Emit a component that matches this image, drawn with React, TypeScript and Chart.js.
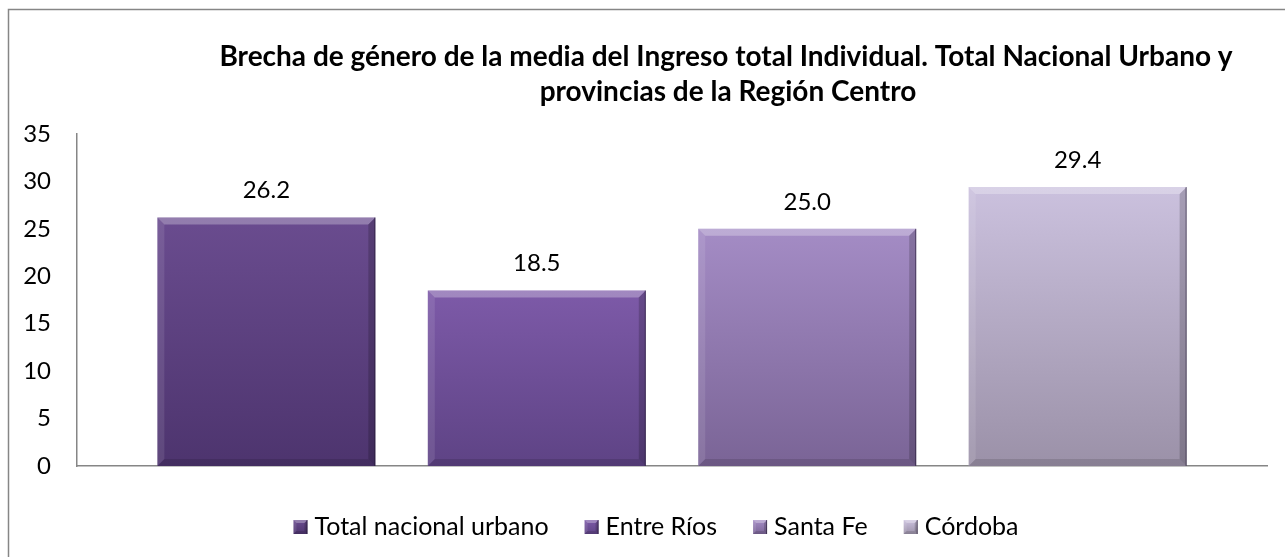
import React, { useEffect, useRef } from "react";
import { Chart, registerables } from "chart.js";

Chart.register(...registerables);

const categories = ["Total nacional urbano", "Entre Ríos", "Santa Fe", "Córdoba"];
const values = [26.2, 18.5, 25.0, 29.4];
const yMin = 0;
const yMax = 35;
const yStep = 5;
const titleLines = [
  "Brecha de género de la media del Ingreso total Individual. Total Nacional Urbano y",
  "provincias de la Región Centro",
];
const topColors = ["#6a4c8f", "#7d5aa8", "#a48cc5", "#cbc1de"];
const bottomColors = ["#4d346e", "#5e4385", "#7a6496", "#9b91a8"];

const FONT = "Lato, 'Open Sans', sans-serif";

const framePlugin = {
  id: "frame",
  beforeDraw(chart: any) {
    const c = chart.ctx;
    c.save();
    c.fillStyle = "#ffffff";
    c.fillRect(0, 0, chart.width, chart.height);
    c.strokeStyle = "#868686";
    c.lineWidth = 1.5;
    c.beginPath();
    c.moveTo(8.5, chart.height);
    c.lineTo(8.5, 9.5);
    c.lineTo(chart.width, 9.5);
    c.stroke();
    c.restore();
  },
};

const titlePlugin = {
  id: "customTitle",
  afterDraw(chart: any) {
    const c = chart.ctx;
    c.save();
    c.fillStyle = "#000";
    c.font = `bold 28px ${FONT}`;
    c.textAlign = "center";
    c.textBaseline = "middle";
    c.fillText(titleLines[0], 726, 57);
    c.fillText(titleLines[1], 728, 92);
    c.restore();
  },
};

function shade(c: any, x: number, y: number, w: number, h: number, b: number) {
  c.save();
  c.fillStyle = "rgba(255,255,255,0.28)";
  c.beginPath();
  c.moveTo(x, y);
  c.lineTo(x + w, y);
  c.lineTo(x + w - b, y + b);
  c.lineTo(x + b, y + b);
  c.closePath();
  c.fill();
  c.fillStyle = "rgba(255,255,255,0.10)";
  c.beginPath();
  c.moveTo(x, y);
  c.lineTo(x + b, y + b);
  c.lineTo(x + b, y + h - b);
  c.lineTo(x, y + h);
  c.closePath();
  c.fill();
  c.fillStyle = "rgba(0,0,0,0.18)";
  c.beginPath();
  c.moveTo(x + w, y);
  c.lineTo(x + w, y + h);
  c.lineTo(x + w - b, y + h - b);
  c.lineTo(x + w - b, y + b);
  c.closePath();
  c.fill();
  c.fillStyle = "rgba(0,0,0,0.12)";
  c.beginPath();
  c.moveTo(x, y + h);
  c.lineTo(x + w, y + h);
  c.lineTo(x + w - b, y + h - b);
  c.lineTo(x + b, y + h - b);
  c.closePath();
  c.fill();
  c.strokeStyle = "rgba(30,20,45,0.55)";
  c.lineWidth = 1;
  c.beginPath();
  c.moveTo(x + w - 0.5, y);
  c.lineTo(x + w - 0.5, y + h);
  c.stroke();
  c.restore();
}

const barDecorPlugin = {
  id: "barDecor",
  afterDatasetsDraw(chart: any) {
    const c = chart.ctx;
    chart.data.datasets.forEach((ds: any, i: number) => {
      const meta = chart.getDatasetMeta(i);
      meta.data.forEach((el: any, j: number) => {
        const p = el.getProps(["x", "y", "base", "width"], true);
        const x = p.x - p.width / 2;
        shade(c, x, p.y, p.width, p.base - p.y, 7);
        c.save();
        c.fillStyle = "#000";
        c.font = `24px ${FONT}`;
        c.textAlign = "center";
        c.textBaseline = "middle";
        c.fillText(Number(ds.data[j]).toFixed(1), p.x, p.y - 27);
        c.restore();
      });
    });
  },
};

const legendPlugin = {
  id: "customLegend",
  afterDraw(chart: any) {
    const c = chart.ctx;
    c.save();
    c.font = `25px ${FONT}`;
    const box = 14;
    const gap = 7;
    const spacing = 36;
    const widths = chart.data.datasets.map((d: any) => box + gap + c.measureText(d.label).width);
    const total = widths.reduce((a: number, b: number) => a + b, 0) + spacing * (widths.length - 1);
    let x = 656 - total / 2;
    const cy = 527;
    chart.data.datasets.forEach((d: any, i: number) => {
      const g = c.createLinearGradient(0, cy - box / 2, 0, cy + box / 2);
      g.addColorStop(0, topColors[i]);
      g.addColorStop(1, bottomColors[i]);
      c.fillStyle = g;
      c.fillRect(x, cy - box / 2, box, box);
      shade(c, x, cy - box / 2, box, box, 3);
      c.fillStyle = "#000";
      c.textAlign = "left";
      c.textBaseline = "middle";
      c.fillText(d.label, x + box + gap, cy);
      x += widths[i] + spacing;
    });
    c.restore();
  },
};

export default function App() {
  const ref = useRef<HTMLCanvasElement | null>(null);
  useEffect(() => {
    if (!ref.current) return;
    const chart = new Chart(ref.current, {
      type: "bar",
      data: {
        labels: [""],
        datasets: categories.map((label, i) => ({
          label,
          data: [values[i]],
          backgroundColor: (ctx: any) => {
            const ch = ctx.chart;
            const ys = ch.scales && ch.scales.y;
            if (!ys || !ch.chartArea) return topColors[i];
            const top = ys.getPixelForValue(values[i]);
            const base = ys.getPixelForValue(0);
            const g = ch.ctx.createLinearGradient(0, top, 0, base);
            g.addColorStop(0, topColors[i]);
            g.addColorStop(1, bottomColors[i]);
            return g;
          },
          borderWidth: 0,
          barPercentage: 0.806,
          categoryPercentage: 0.909,
        })),
      },
      options: {
        responsive: false,
        animation: false,
        devicePixelRatio: 1,
        layout: { padding: { left: 0, top: 134, right: 18, bottom: 91 } },
        plugins: {
          legend: { display: false },
          title: { display: false },
          tooltip: { enabled: false },
        },
        scales: {
          x: {
            grid: { display: false, drawTicks: false },
            border: { display: true, color: "#868686", width: 1.5 },
            ticks: { display: false },
            afterFit: (s: any) => {
              s.height = 0;
            },
          },
          y: {
            min: yMin,
            max: yMax,
            ticks: {
              stepSize: yStep,
              padding: 26,
              color: "#000",
              font: { family: FONT, size: 24 },
            },
            grid: { display: false, drawTicks: false },
            border: { display: true, color: "#868686", width: 1.5 },
            afterFit: (s: any) => {
              s.width = 77;
            },
          },
        },
      },
      plugins: [framePlugin, barDecorPlugin, legendPlugin, titlePlugin],
    });
    return () => chart.destroy();
  }, []);
  return (
    <div style={{ position: "absolute", left: 0, top: 0, width: 1285, height: 557 }}>
      <canvas ref={ref} width={1285} height={557} />
    </div>
  );
}
